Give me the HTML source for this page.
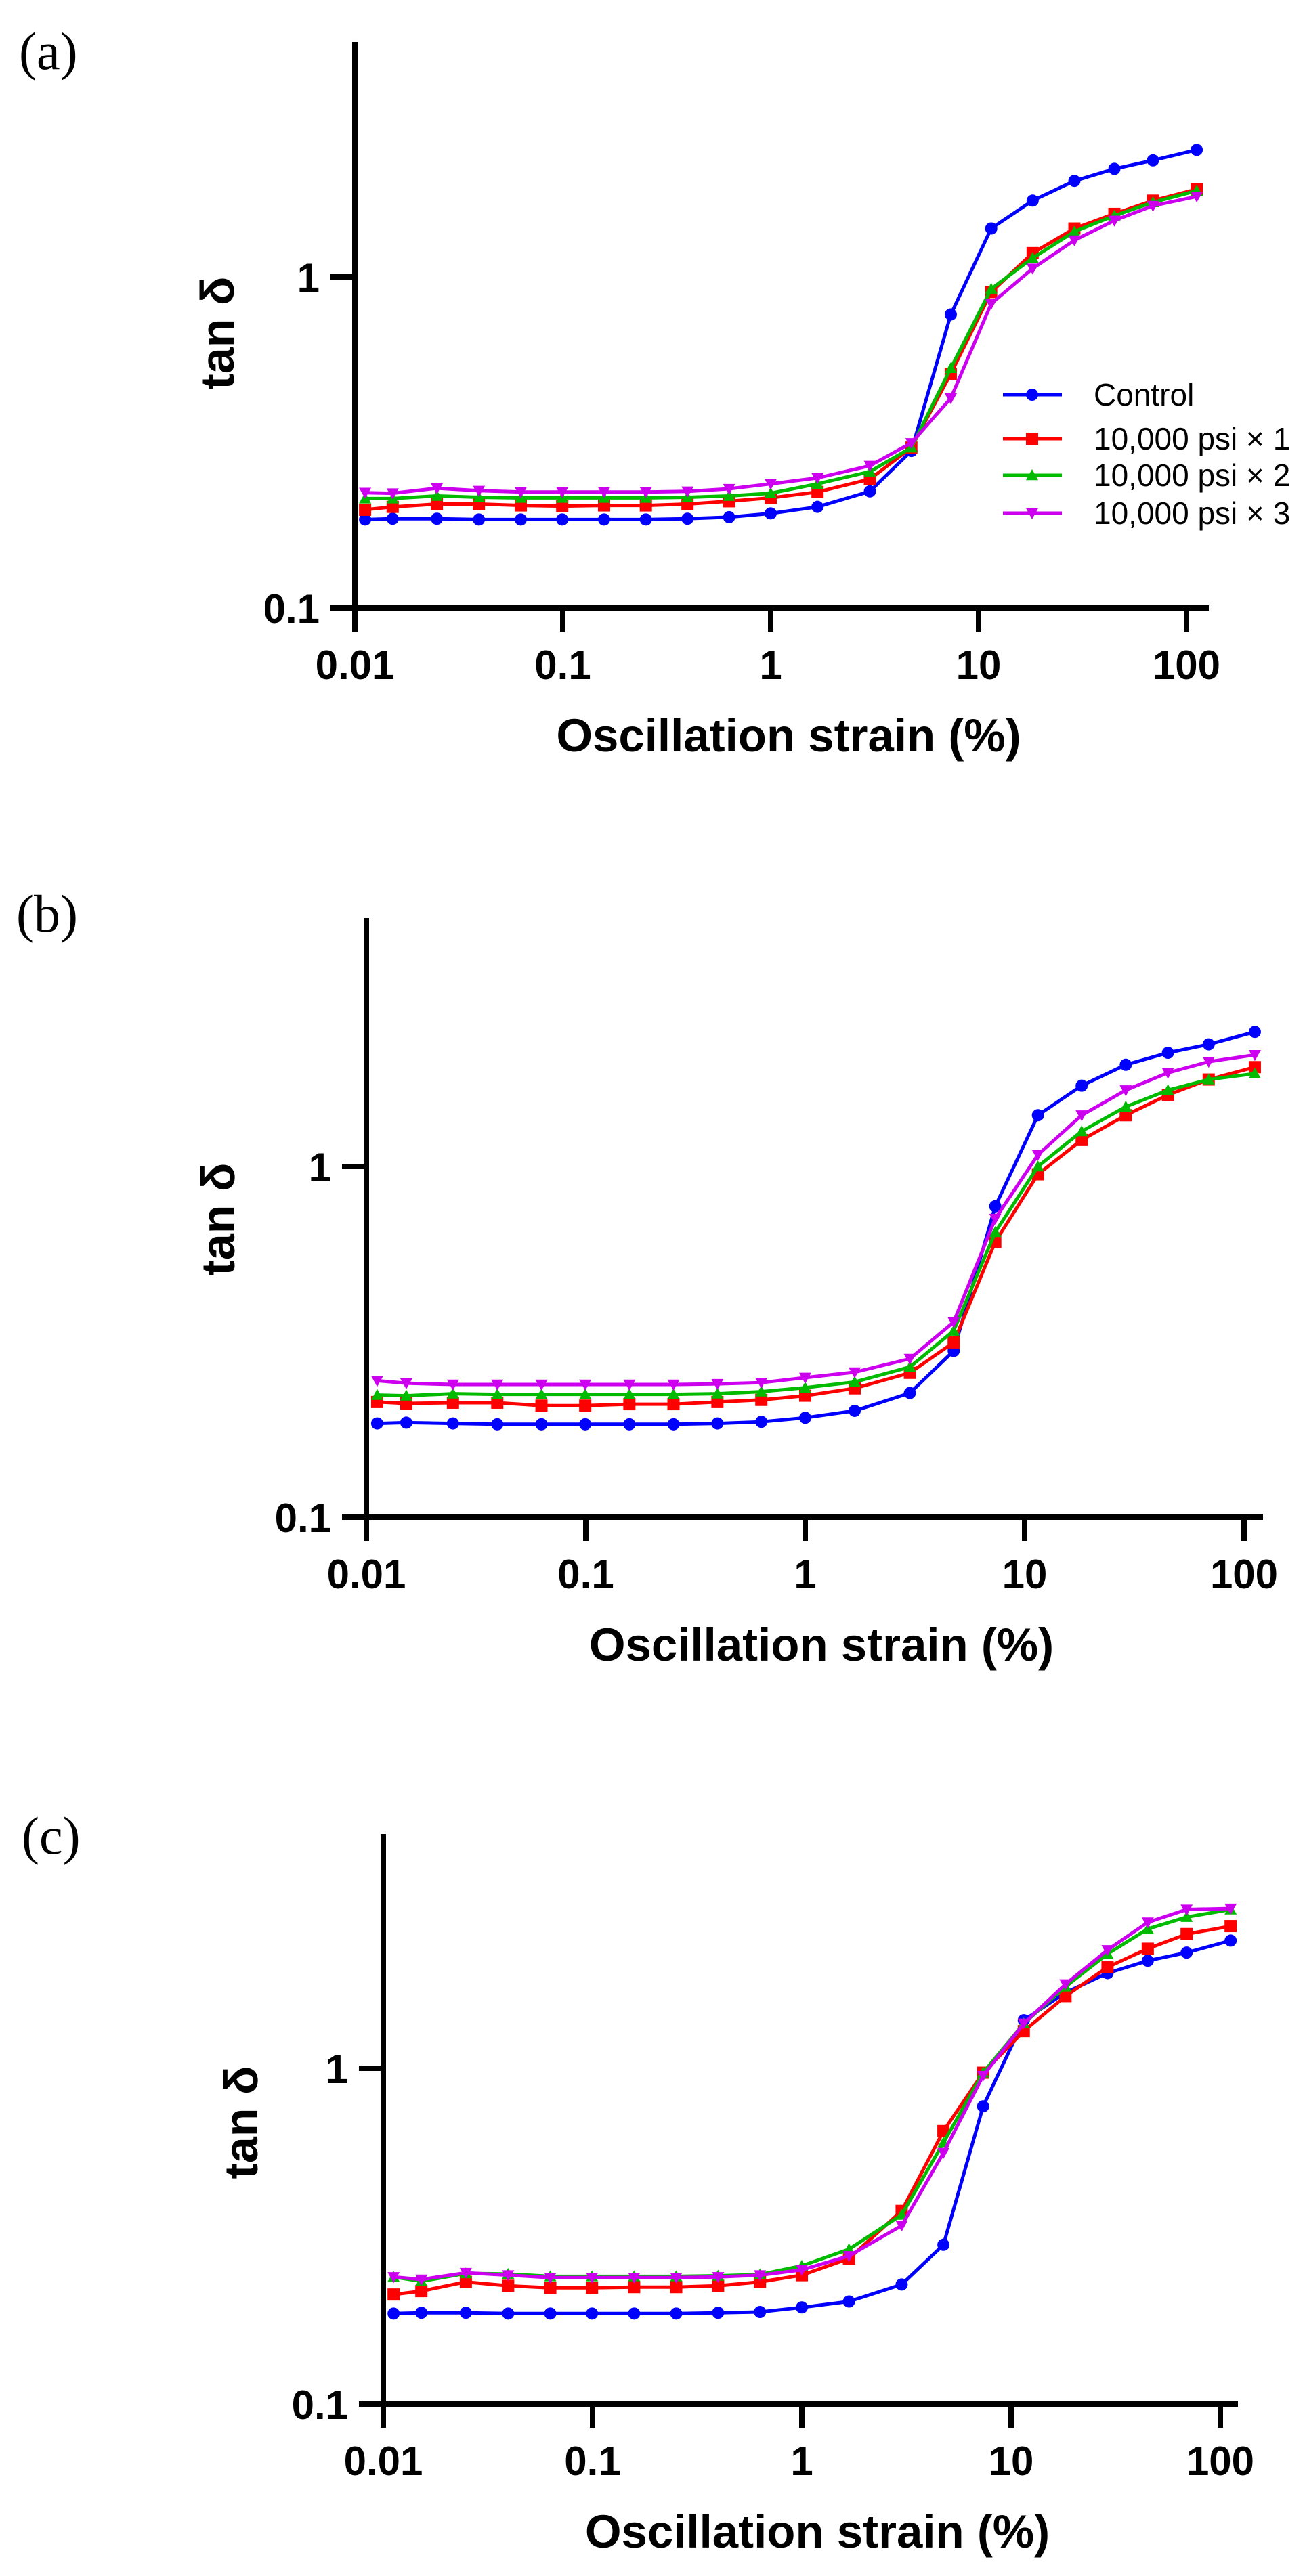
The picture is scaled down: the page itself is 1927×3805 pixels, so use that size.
<!DOCTYPE html>
<html><head><meta charset="utf-8">
<style>
html,body{margin:0;padding:0;background:#fff;}
svg{display:block;}
</style></head>
<body>
<svg id="fig" xmlns="http://www.w3.org/2000/svg" width="1927" height="3805" viewBox="0 0 1927 3805"></svg>
<script>
// ---- data ----
const strains = [0.0112,0.0152,0.0248,0.0395,0.0628,0.0994,0.158,0.251,0.398,0.631,1.0,1.68,3.0,4.75,7.35,11.5,18.2,28.9,45,69,112];
const seriesNames = ["Control","10,000 psi × 1","10,000 psi × 2","10,000 psi × 3"];
const xTickValues = [0.01,0.1,1,10,100];
const xTickLabels = ["0.01","0.1","1","10","100"];
const yTickValues = [0.1,1];
const yTickLabels = ["0.1","1"];

const aControl = [0.185,0.186,0.186,0.185,0.185,0.185,0.185,0.185,0.186,0.188,0.193,0.202,0.225,0.298,0.77,1.40,1.70,1.95,2.12,2.25,2.42];
const aPsi1 = [0.198,0.202,0.206,0.206,0.204,0.203,0.204,0.204,0.206,0.210,0.215,0.224,0.245,0.305,0.51,0.90,1.18,1.40,1.55,1.70,1.84];
const aPsi2 = [0.214,0.214,0.218,0.216,0.215,0.215,0.215,0.215,0.216,0.218,0.222,0.237,0.258,0.305,0.53,0.92,1.14,1.37,1.53,1.68,1.82];
const aPsi3 = [0.223,0.222,0.230,0.226,0.224,0.224,0.224,0.224,0.225,0.229,0.237,0.247,0.269,0.315,0.43,0.83,1.06,1.29,1.48,1.64,1.75];

const bControl = [0.185,0.186,0.185,0.184,0.184,0.184,0.184,0.184,0.185,0.187,0.192,0.201,0.226,0.298,0.77,1.40,1.70,1.95,2.11,2.23,2.42];
const bPsi1 = [0.213,0.211,0.212,0.212,0.208,0.208,0.210,0.210,0.213,0.216,0.222,0.233,0.258,0.315,0.61,0.95,1.19,1.40,1.60,1.77,1.92];
const bPsi2 = [0.223,0.222,0.225,0.224,0.224,0.224,0.224,0.224,0.225,0.228,0.234,0.243,0.268,0.34,0.65,1.00,1.26,1.48,1.65,1.77,1.84];
const bPsi3 = [0.245,0.241,0.239,0.239,0.239,0.239,0.239,0.239,0.240,0.242,0.250,0.259,0.283,0.36,0.71,1.08,1.40,1.65,1.85,1.99,2.08];

const cControl = [0.186,0.187,0.187,0.186,0.186,0.186,0.186,0.186,0.187,0.188,0.194,0.202,0.227,0.298,0.77,1.39,1.68,1.92,2.09,2.21,2.40];
const cPsi1 = [0.212,0.217,0.231,0.225,0.222,0.222,0.223,0.223,0.225,0.231,0.242,0.271,0.376,0.65,0.97,1.29,1.64,2.00,2.27,2.51,2.65];
const cPsi2 = [0.239,0.232,0.245,0.244,0.240,0.240,0.240,0.240,0.241,0.243,0.258,0.289,0.366,0.60,0.97,1.36,1.75,2.19,2.60,2.82,2.97];
const cPsi3 = [0.239,0.235,0.246,0.242,0.238,0.238,0.238,0.238,0.239,0.242,0.251,0.276,0.34,0.56,0.95,1.36,1.78,2.25,2.72,2.97,2.99];

const colors = ["#0000ff","#ff0000","#00bb00","#cc00ee"];
const markers = ["circle","square","triangle","tri-down"];
const NS = "http://www.w3.org/2000/svg";
const svg = document.getElementById("fig");

function mk(tag, attrs, parent){
  const e = document.createElementNS(NS, tag);
  for (const k in attrs) e.setAttribute(k, attrs[k]);
  (parent||svg).appendChild(e);
  return e;
}

function drawPanel(p){
  const g = mk("g", {});
  
  
  const xs = v => p.x0 + (Math.log10(v) + 2) * p.xdec;
  const ys = v => p.yAxis - (Math.log10(v) + 1) * p.ydec;

  const lab = mk("text", {x:p.labX, y:p.labY, "font-family":"Liberation Serif, serif", "font-size":78, fill:"#000"}, g);
  lab.textContent = "(" + p.id + ")";
  
  

  const ya = mk("line", {x1:p.x0, y1:p.top, x2:p.x0, y2:p.yAxis+4, stroke:"#000","stroke-width":8}, g);
  
  
  const xa = mk("line", {x1:p.x0-4, y1:p.yAxis, x2:p.xEnd, y2:p.yAxis, stroke:"#000","stroke-width":8}, g);
  
  

  xTickValues.forEach((v,i)=>{
    const x = xs(v);
    const t = mk("line", {x1:x, y1:p.yAxis, x2:x, y2:p.yAxis+35, stroke:"#000","stroke-width":8}, g);
    
    
    const tl = mk("text", {x:x, y:p.yAxis+105, "text-anchor":"middle","font-family":"Liberation Sans, sans-serif","font-size":60,"font-weight":"bold"}, g);
    tl.textContent = xTickLabels[i];
    
    
  });
  yTickValues.forEach((v,i)=>{
    const y = ys(v);
    const t = mk("line", {x1:p.x0-36, y1:y, x2:p.x0, y2:y, stroke:"#000","stroke-width":8}, g);
    
    
    const tl = mk("text", {x:p.x0-52, y:y+22, "text-anchor":"end","font-family":"Liberation Sans, sans-serif","font-size":60,"font-weight":"bold"}, g);
    tl.textContent = yTickLabels[i];
    
    
  });

  const xt = mk("text", {x:(p.x0+p.xEnd)/2+10, y:p.yAxis+212, "text-anchor":"middle","font-family":"Liberation Sans, sans-serif","font-size":69,"font-weight":"bold"}, g);
  xt.textContent = "Oscillation strain (%)";
  
  
  const ytx = p.ytX, yty = p.ytY;
  const yt = mk("text", {x:ytx, y:yty, "text-anchor":"middle","font-family":"Liberation Sans, sans-serif","font-size":70,"font-weight":"bold", transform:"rotate(-90 "+ytx+" "+yty+")"}, g);
  yt.textContent = "tan δ";
  
  

  p.series.forEach((vals,si)=>{
    const sg = mk("g", {}, g);
    
    
    const pts = vals.map((v,i)=>xs(strains[i]).toFixed(1)+","+ys(v).toFixed(1)).join(" ");
    const pl = mk("polyline", {points:pts, fill:"none", stroke:colors[si], "stroke-width":5, "stroke-linejoin":"round"}, sg);
    
    
    vals.forEach((v,i)=>{
      const m = drawMarker(sg, markers[si], xs(strains[i]), ys(v), colors[si], 9);
      
      
    });
  });

  if (p.legend){
    const lg = mk("g", {}, g);
    
    
    const ly = [583,648,702,758];
    seriesNames.forEach((n,si)=>{
      const eg = mk("g", {}, lg);
      
      
      mk("line", {x1:1481, y1:ly[si], x2:1568, y2:ly[si], stroke:colors[si], "stroke-width":5}, eg);
      drawMarker(eg, markers[si], 1524, ly[si], colors[si], 9);
      const t = mk("text", {x:1615, y:ly[si]+16, "font-family":"Liberation Sans, sans-serif","font-size":46}, eg);
      t.textContent = n;
    });
  }
}

function drawMarker(parent, type, x, y, c, r){
  if (type==="circle") return mk("circle", {cx:x, cy:y, r:r, fill:c}, parent);
  if (type==="square") return mk("rect", {x:x-r, y:y-r, width:2*r, height:2*r, fill:c}, parent);
  if (type==="triangle") return mk("polygon", {points:`${x},${y-r} ${x-r},${y+r*0.8} ${x+r},${y+r*0.8}`, fill:c}, parent);
  return mk("polygon", {points:`${x},${y+r} ${x-r},${y-r*0.8} ${x+r},${y-r*0.8}`, fill:c}, parent);
}

drawPanel({id:"a", x0:524, xdec:307, xEnd:1785, top:62, yAxis:898, ydec:489, labX:28, labY:102, ytX:345, ytY:492,
  series:[aControl,aPsi1,aPsi2,aPsi3], legend:true});
drawPanel({id:"b", x0:541, xdec:324, xEnd:1865, top:1356, yAxis:2241, ydec:518, labX:24, labY:1376, ytX:346, ytY:1801,
  series:[bControl,bPsi1,bPsi2,bPsi3], legend:false});
drawPanel({id:"c", x0:566, xdec:309, xEnd:1828, top:2709, yAxis:3551, ydec:496, labX:32, labY:2738, ytX:380, ytY:3135,
  series:[cControl,cPsi1,cPsi2,cPsi3], legend:false});
</script>
</body></html>
